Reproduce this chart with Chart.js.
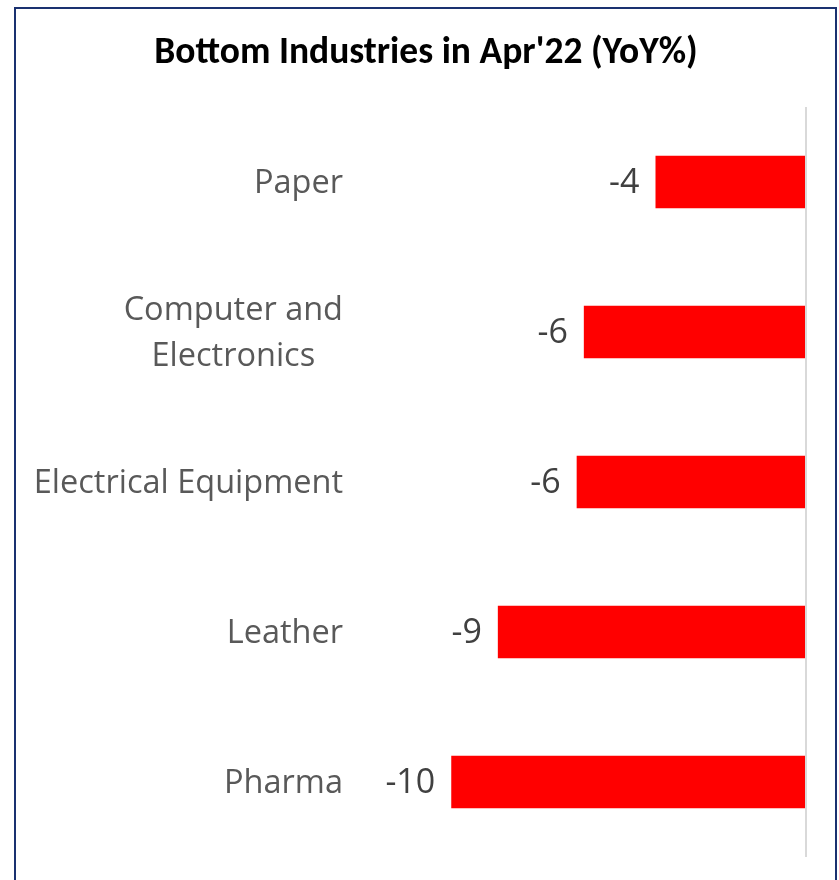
<!DOCTYPE html>
<html>
<head>
<meta charset="utf-8">
<script src="https://cdn.jsdelivr.net/npm/chart.js@4/dist/chart.umd.min.js"></script>
<style>
  html, body { margin: 0; padding: 0; background: #ffffff; }
  #wrap { position: relative; width: 839px; height: 880px; overflow: hidden; }
  #frame { position: absolute; left: 14px; top: 7px; width: 819px; height: 900px; border: 2px solid #1a3170; pointer-events: none; }
  canvas { position: absolute; left: 0; top: 0; }
</style>
</head>
<body>
<div id="wrap">
  <canvas id="c" width="839" height="880"></canvas>
  <div id="frame"></div>
</div>
<script>
const titleText = "Bottom Industries in Apr'22 (YoY%)";
const categories = ["Paper", ["Computer and", "Electronics"], "Electrical Equipment", "Leather", "Pharma"];
const yoyValues = [-4.2, -6.2, -6.4, -8.6, -9.9];
const axisMin = -12;
const axisMax = 0;

const catFont = "32.5px 'Open Sans', 'Noto Sans', sans-serif";
const valFont = "34px 'Open Sans', 'Noto Sans', sans-serif";

const catLabelPlugin = {
  id: 'catLabels',
  afterDraw(chart) {
    const ctx = chart.ctx;
    const yScale = chart.scales.y;
    const rightX = chart.chartArea.left - 33;
    ctx.save();
    ctx.font = catFont;
    ctx.fillStyle = '#595959';
    ctx.textBaseline = 'middle';
    ctx.textAlign = 'center';
    categories.forEach((lab, i) => {
      const lines = Array.isArray(lab) ? lab : [lab];
      const maxW = Math.max(...lines.map(l => ctx.measureText(l).width));
      const cx = rightX - maxW / 2;
      const cy = yScale.getPixelForValue(i) + 2;
      const lh = 46;
      lines.forEach((l, k) => {
        const y = cy + (k - (lines.length - 1) / 2) * lh;
        ctx.fillText(l, cx, y);
      });
    });
    ctx.restore();
  }
};

const dataLabelPlugin = {
  id: 'dataLabels',
  afterDatasetsDraw(chart) {
    const ctx = chart.ctx;
    const meta = chart.getDatasetMeta(0);
    ctx.save();
    ctx.font = valFont;
    ctx.fillStyle = '#404040';
    ctx.textBaseline = 'middle';
    ctx.textAlign = 'right';
    meta.data.forEach((bar, i) => {
      const v = yoyValues[i];
      ctx.fillText(Math.round(v).toString(), bar.x - 16, bar.y + 1);
    });
    ctx.restore();
  }
};

new Chart(document.getElementById('c'), {
  type: 'bar',
  data: {
    labels: categories,
    datasets: [{
      data: yoyValues,
      backgroundColor: '#ff0000',
      borderWidth: 0,
      categoryPercentage: 1,
      barPercentage: 0.35
    }]
  },
  options: {
    indexAxis: 'y',
    responsive: false,
    animation: false,
    layout: { padding: { left: 13, right: 0, top: 0, bottom: 23 } },
    plugins: {
      legend: { display: false },
      tooltip: { enabled: false },
      title: {
        display: true,
        text: titleText,
        color: '#000000',
        font: { family: "Carlito, Lato, 'Liberation Sans', sans-serif", size: 37.5, weight: 'bold', lineHeight: 1.2 },
        padding: { top: 31, bottom: 31 }
      }
    },
    scales: {
      x: {
        min: axisMin,
        max: axisMax,
        ticks: { display: false, stepSize: 2 },
        border: { display: false },
        grid: {
          drawTicks: false,
          lineWidth: 2,
          color: (c) => (c.tick && c.tick.value === 0) ? '#d9d9d9' : 'rgba(0,0,0,0)'
        }
      },
      y: {
        ticks: { display: false },
        border: { display: false },
        grid: { display: false, drawTicks: false },
        afterFit(scale) { scale.width = 363; }
      },
      yRight: {
        axis: 'y',
        position: 'right',
        display: true,
        ticks: { display: false },
        border: { display: false },
        grid: { display: false, drawTicks: false },
        afterFit(scale) { scale.width = 33; }
      }
    }
  },
  plugins: [catLabelPlugin, dataLabelPlugin]
});
</script>
</body>
</html>
